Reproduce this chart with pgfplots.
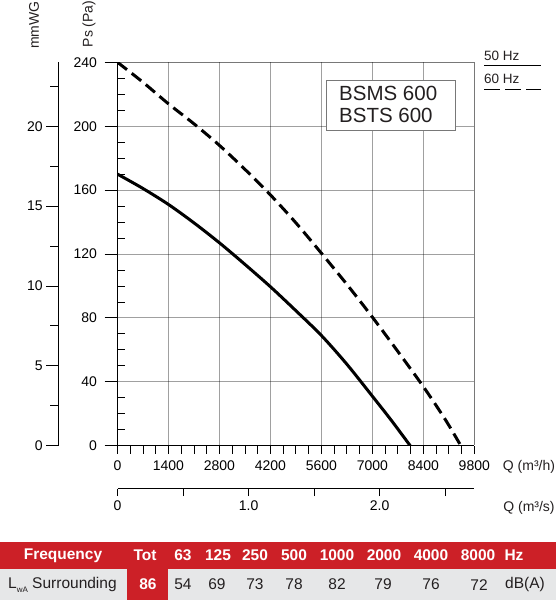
\documentclass[border=0pt]{standalone}
\usepackage{pgfplots}
\pgfplotsset{compat=1.18}
\usepackage{fontspec}
\setmainfont{Liberation Sans}
\definecolor{tblred}{RGB}{204,32,39}
\definecolor{tblgray}{RGB}{230,231,232}
\definecolor{gridgray}{RGB}{160,160,160}
\definecolor{boxgray}{RGB}{120,120,120}
\definecolor{txt}{RGB}{35,31,32}

\begin{document}
\begin{tikzpicture}
\path[use as bounding box] (0pt,0pt) rectangle (556pt,600pt);

% ---------------- main axis (Pa vs m3/h)
\begin{axis}[
  at={(117.5pt,154.3pt)}, anchor=south west,
  scale only axis, width=356.8pt, height=383.4pt,
  xmin=0, xmax=9800, ymin=0, ymax=240,
  xtick={0,1400,2800,4200,5600,7000,8400,9800},
  ytick={0,40,80,120,160,200,240},
  minor x tick num=3, minor y tick num=3,
  axis x line*=bottom, axis y line*=left,
  axis line style={-, black, line width=1pt},
  tick align=outside, major tick length=8pt, minor tick length=8pt,
  every minor y tick/.append style={xshift=8pt},
  tick style={black, line width=0.8pt},
  ticklabel style={font=\fontsize{14}{16}\selectfont},
  /pgf/number format/assume math mode=true,
  /pgf/number format/1000 sep={},
  yticklabel style={xshift=-9pt},
  xticklabel style={yshift=-3pt},
]
% 50 Hz (solid)
\addplot[black, line width=3pt, smooth] coordinates {
 (0,170) (700,161) (1400,151) (2100,139.5) (2800,127) (3500,113.5)
 (4200,99.5) (4900,84.5) (5600,69) (6300,51) (7000,31) (7500,16.5) (8040,0)
};
% 60 Hz (dashed)
\addplot[black, line width=3pt, smooth, dash pattern=on 12pt off 6pt] coordinates {
 (0,240) (700,227.5) (1400,214) (2100,201.5) (2800,188) (3500,173)
 (4200,157) (4900,139.5) (5600,120.5) (6300,101) (7000,80.5) (7700,59)
 (8400,37) (9000,16.5) (9430,0)
};
\end{axis}

% ---------------- outward extension of the major Pa ticks
\begin{axis}[
  at={(117.5pt,154.3pt)}, anchor=south west,
  scale only axis, width=356.8pt, height=383.4pt,
  xmin=0, xmax=9800, ymin=0, ymax=240,
  hide x axis, axis y line*=left,
  axis line style={-, black, line width=1pt},
  ytick={0,40,80,120,160,200,240}, yticklabels={},
  tick align=outside, major tick length=13pt,
  tick style={black, line width=0.8pt},
]
\end{axis}

% ---------------- mmWG axis
\begin{axis}[
  at={(58.3pt,154.3pt)}, anchor=south west,
  scale only axis, width=20pt, height=383.4pt,
  xmin=0, xmax=1, ymin=0, ymax=24,
  hide x axis, axis y line*=left,
  axis line style={-, black, line width=1pt},
  ytick={0,5,10,15,20}, minor ytick={2.5,7.5,12.5,17.5,22.5},
  tick align=outside, major tick length=12pt, minor tick length=8pt,
  tick style={black, line width=0.8pt},
  ticklabel style={font=\fontsize{14}{16}\selectfont},
  /pgf/number format/assume math mode=true,
]
\end{axis}

% ---------------- m3/s axis
\begin{axis}[
  at={(117.5pt,111pt)}, anchor=south west,
  scale only axis, width=356.8pt, height=10pt,
  xmin=0, xmax=2.72222, ymin=0, ymax=1,
  hide y axis, axis x line*=bottom,
  axis line style={-, black, line width=1pt},
  xtick={0,1,2}, xticklabels={0,1.0,2.0}, minor xtick={0.5,1.5,2.5},
  tick align=outside, major tick length=7pt, minor tick length=7pt,
  tick style={black, line width=0.8pt},
  ticklabel style={font=\fontsize{14}{16}\selectfont},
  /pgf/number format/assume math mode=true,
  xticklabel style={yshift=-1pt},
]
\end{axis}

\begin{scope}[x=1pt,y=1pt]
% ---------------- grid of the Pa / m3/h field (multiplied, so the black curves stay black)
\begin{scope}[blend mode=multiply]
\foreach \gx in {168.47,219.44,270.41,321.39,372.36,423.33}{
  \draw[gridgray, line width=0.9pt] (\gx,154.8) -- (\gx,537.7);
}
\foreach \gy in {218.2,282.1,346.0,409.9,473.8}{
  \draw[gridgray, line width=0.9pt] (118,\gy) -- (474.3,\gy);
}
\draw[boxgray, line width=1.3pt] (118,537.7) -- (474.3,537.7) -- (474.3,154.8);
\end{scope}

% ---------------- axis titles
\node[rotate=90, font=\fontsize{14}{16}\selectfont, text=txt] at (89,576) {Ps (Pa)};
\node[rotate=90, font=\fontsize{14}{16}\selectfont, text=txt] at (34,575) {mmWG};
\node[font=\fontsize{14}{16}\selectfont, text=txt] at (529,133) {Q (m³/h)};
\node[font=\fontsize{14}{16}\selectfont, text=txt] at (529,92) {Q (m³/s)};

% ---------------- model box
\draw[boxgray, line width=1pt, fill=white] (326,519.7) rectangle (455,469.3);
\node[anchor=west, font=\fontsize{20.5}{24}\selectfont, text=txt, inner sep=0pt] at (339,507) {BSMS 600};
\node[anchor=west, font=\fontsize{20.5}{24}\selectfont, text=txt, inner sep=0pt] at (339,485) {BSTS 600};

% ---------------- legend
\node[anchor=west, font=\fontsize{13.5}{15}\selectfont, text=txt, inner sep=0pt] at (484,544) {50 Hz};
\draw[black, line width=1pt] (484,534) -- (541,534);
\node[anchor=west, font=\fontsize{13.5}{15}\selectfont, text=txt, inner sep=0pt] at (484,521.5) {60 Hz};
\draw[black, line width=1pt, dash pattern=on 16pt off 5pt] (484,510.7) -- (541,510.7);

% ---------------- sound table
\fill[tblred] (0,30.7) rectangle (556,57.7);
\fill[tblgray] (0,0) rectangle (556,30.7);
\fill[tblred] (127,0) rectangle (168,30.7);
\begin{scope}[every node/.style={font=\bfseries\fontsize{15.5}{18}\selectfont, text=white, inner sep=0pt}]
\node at (63,44.5) {Frequency};
\node at (145,44.5) {Tot};
\node at (183,44.5) {63};
\node at (218,44.5) {125};
\node at (255,44.5) {250};
\node at (294,44.5) {500};
\node at (337,44.5) {1000};
\node at (384,44.5) {2000};
\node at (431,44.5) {4000};
\node at (478,44.5) {8000};
\node at (514,44.5) {Hz};
\node at (148,15.4) {86};
\end{scope}
\begin{scope}[every node/.style={font=\fontsize{15.5}{18}\selectfont, text=txt, inner sep=0pt}]
\node[anchor=west] at (8,15.4) {L\raisebox{-0.45ex}{\fontsize{8}{9}\selectfont wA} Surrounding};
\node at (183,15.4) {54};
\node at (217,15.4) {69};
\node at (255,15.4) {73};
\node at (294,15.4) {78};
\node at (337,15.4) {82};
\node at (383,15.4) {79};
\node at (431,15.4) {76};
\node at (479,15.4) {72};
\node at (525,15.4) {dB(A)};
\end{scope}
\end{scope}
\end{tikzpicture}
\end{document}
